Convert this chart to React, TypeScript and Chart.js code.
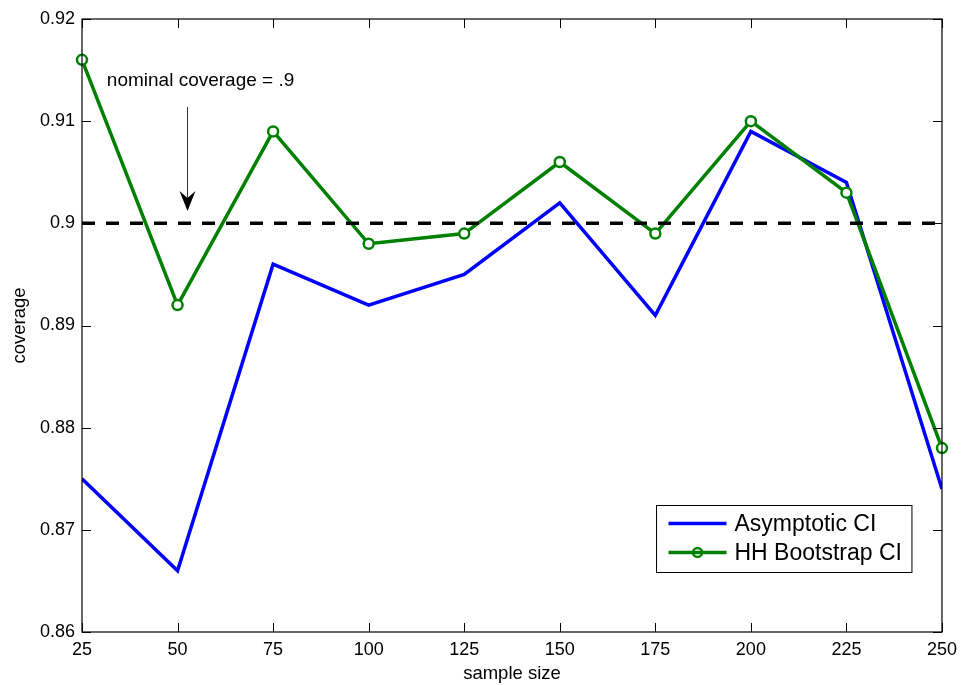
import React, { useEffect, useRef } from "react";
import { Chart, registerables } from "chart.js";
Chart.register(...registerables);

const sampleSizes = [25, 50, 75, 100, 125, 150, 175, 200, 225, 250];
const asymptoticCI = [0.875, 0.866, 0.896, 0.892, 0.895, 0.902, 0.891, 0.909, 0.904, 0.874];
const hhBootstrapCI = [0.916, 0.892, 0.909, 0.898, 0.899, 0.906, 0.899, 0.91, 0.903, 0.878];
const nominalCoverage = 0.9;
const xTicks = [25, 50, 75, 100, 125, 150, 175, 200, 225, 250];
const yTicks = [0.86, 0.87, 0.88, 0.89, 0.9, 0.91, 0.92];
const seriesLabels = ["Asymptotic CI", "HH Bootstrap CI"];
const annotationText = "nominal coverage = .9";
const annotationTextAt = { x: 31.5, y: 0.914 };
const arrowFrom = { x: 52.4, y: 0.9114 };
const arrowTo = { x: 52.4, y: 0.9012 };

const FONT = "'Liberation Sans', Arial, Helvetica, sans-serif";
const BLUE = "rgb(0,0,255)";
const GREEN = "rgb(0,128,0)";

const matlabPlugin = {
  id: "matlabDecor",
  afterDraw(chart: any) {
    const { ctx, chartArea, scales } = chart;
    const xs = scales.x;
    const ys = scales.y;
    const { left, right, top, bottom } = chartArea;
    ctx.save();
    // frame
    ctx.strokeStyle = "#000";
    ctx.lineWidth = 1.2;
    ctx.strokeRect(left, top, right - left, bottom - top);
    // inside ticks
    const tl = 9;
    ctx.lineWidth = 1;
    ctx.beginPath();
    xTicks.forEach((v) => {
      const px = Math.round(xs.getPixelForValue(v)) + 0.5;
      ctx.moveTo(px, bottom);
      ctx.lineTo(px, bottom - tl);
      ctx.moveTo(px, top);
      ctx.lineTo(px, top + tl);
    });
    yTicks.forEach((v) => {
      const py = Math.round(ys.getPixelForValue(v)) + 0.5;
      ctx.moveTo(left, py);
      ctx.lineTo(left + tl, py);
      ctx.moveTo(right, py);
      ctx.lineTo(right - tl, py);
    });
    ctx.stroke();

    // annotation text
    ctx.fillStyle = "#000";
    ctx.font = `19px ${FONT}`;
    ctx.textBaseline = "middle";
    ctx.textAlign = "left";
    ctx.fillText(annotationText, xs.getPixelForValue(annotationTextAt.x), ys.getPixelForValue(annotationTextAt.y));

    // arrow
    const ax = Math.round(xs.getPixelForValue(arrowFrom.x)) + 0.5;
    const ay1 = ys.getPixelForValue(arrowFrom.y);
    const ay2 = ys.getPixelForValue(arrowTo.y);
    ctx.strokeStyle = "#333";
    ctx.lineWidth = 1;
    ctx.beginPath();
    ctx.moveTo(ax, ay1);
    ctx.lineTo(ax, ay2 - 6);
    ctx.stroke();
    ctx.fillStyle = "#000";
    ctx.beginPath();
    ctx.moveTo(ax, ay2);
    ctx.lineTo(ax - 8, ay2 - 20);
    ctx.lineTo(ax, ay2 - 13);
    ctx.lineTo(ax + 8, ay2 - 20);
    ctx.closePath();
    ctx.fill();

    // legend
    ctx.font = `23px ${FONT}`;
    const tw = Math.max(...seriesLabels.map((s) => ctx.measureText(s).width));
    const boxW = 12 + 58 + 8 + tw + 10;
    const boxH = 67;
    const bx = Math.round(right - 31 - boxW) + 0.5;
    const by = Math.round(bottom - 60 - boxH) + 0.5;
    ctx.fillStyle = "#fff";
    ctx.fillRect(bx, by, boxW, boxH);
    ctx.strokeStyle = "#000";
    ctx.lineWidth = 1;
    ctx.strokeRect(bx, by, boxW, boxH);
    const rows = [by + 18, by + 47];
    const colors = [BLUE, GREEN];
    rows.forEach((ry, i) => {
      ctx.strokeStyle = colors[i];
      ctx.lineWidth = 3.5;
      ctx.beginPath();
      ctx.moveTo(bx + 12, ry);
      ctx.lineTo(bx + 70, ry);
      ctx.stroke();
      if (i === 1) {
        ctx.beginPath();
        ctx.lineWidth = 2.5;
        ctx.arc(bx + 41, ry, 4.5, 0, Math.PI * 2);
        ctx.stroke();
      }
      ctx.fillStyle = "#000";
      ctx.textBaseline = "middle";
      ctx.fillText(seriesLabels[i], bx + 78, ry + 1);
    });
    ctx.restore();
  },
};

export default function App() {
  const ref = useRef<HTMLCanvasElement>(null);
  useEffect(() => {
    document.body.style.margin = "0";
    const chart = new Chart(ref.current!, {
      type: "line",
      data: {
        datasets: [
          {
            label: seriesLabels[1],
            data: sampleSizes.map((x, i) => ({ x, y: hhBootstrapCI[i] })),
            borderColor: GREEN,
            borderWidth: 3.5,
            pointRadius: 5,
            pointBorderWidth: 2.5,
            pointBorderColor: GREEN,
            pointBackgroundColor: "#fff",
            clip: false as any,
            order: 1,
          },
          {
            label: seriesLabels[0],
            data: sampleSizes.map((x, i) => ({ x, y: asymptoticCI[i] })),
            borderColor: BLUE,
            borderWidth: 3.5,
            pointRadius: 0,
            order: 2,
          },
          {
            label: "nominal",
            data: [
              { x: sampleSizes[0], y: nominalCoverage },
              { x: sampleSizes[sampleSizes.length - 1], y: nominalCoverage },
            ],
            borderColor: "#000",
            borderWidth: 3.5,
            borderDash: [13, 11],
            pointRadius: 0,
            order: 0,
          },
        ],
      },
      options: {
        responsive: false,
        animation: false,
        layout: { padding: { left: 0, top: 19, right: 21, bottom: 0 } },
        plugins: { legend: { display: false }, tooltip: { enabled: false } },
        scales: {
          x: {
            type: "linear",
            min: 25,
            max: 250,
            grid: { display: false, drawTicks: false },
            border: { display: false },
            afterBuildTicks: (s: any) => {
              s.ticks = xTicks.map((v) => ({ value: v }));
            },
            afterFit: (s: any) => {
              s.height = 53;
            },
            ticks: {
              color: "#000",
              font: { family: FONT, size: 18 },
              padding: 7,
              maxRotation: 0,
              autoSkip: false,
              callback: (v: any) => String(v),
            },
            title: {
              display: true,
              text: "sample size",
              color: "#000",
              font: { family: FONT, size: 18.5 },
              padding: { top: 0, bottom: 0 },
            },
          },
          y: {
            type: "linear",
            min: 0.86,
            max: 0.92,
            grid: { display: false, drawTicks: false },
            border: { display: false },
            afterBuildTicks: (s: any) => {
              s.ticks = yTicks.map((v) => ({ value: v }));
            },
            afterFit: (s: any) => {
              s.width = 82;
            },
            ticks: {
              color: "#000",
              font: { family: FONT, size: 18 },
              padding: 7,
              autoSkip: false,
              callback: (v: any) => String(Number(Number(v).toFixed(2))),
            },
            title: {
              display: true,
              text: "coverage",
              color: "#000",
              font: { family: FONT, size: 18.5 },
              padding: { top: 9, bottom: 4 },
            },
          },
        },
      },
      plugins: [matlabPlugin],
    });
    return () => chart.destroy();
  }, []);
  return (
    <div style={{ position: "fixed", left: 0, top: 0, width: 964, height: 685, background: "#fff" }}>
      <canvas ref={ref} width={964} height={685} />
    </div>
  );
}
